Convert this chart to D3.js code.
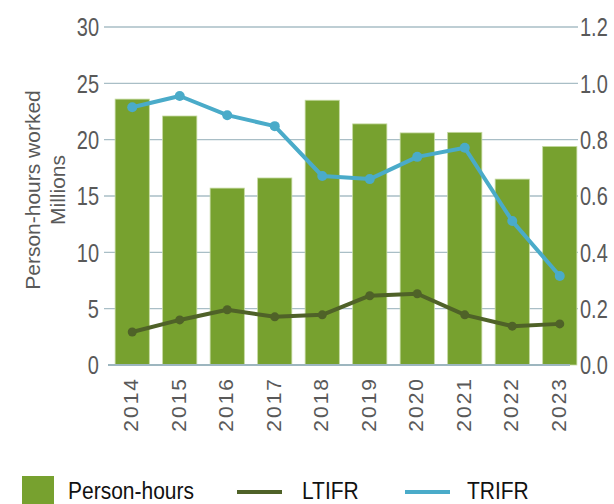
<!DOCTYPE html>
<html>
<head>
<meta charset="utf-8">
<script src="https://cdn.jsdelivr.net/npm/d3@7"></script>
<style>
  body { margin: 0; background: #fff; }
  svg { display: block; font-family: "Liberation Sans", Arial, sans-serif; }
</style>
</head>
<body>
<svg id="chart"></svg>
<script>
// data
const years = ["2014", "2015", "2016", "2017", "2018", "2019", "2020", "2021", "2022", "2023"];
const personHours = [23.6, 22.1, 15.7, 16.6, 23.5, 21.4, 20.6, 20.65, 16.5, 19.4];
const ltifr = [0.117, 0.16, 0.196, 0.171, 0.178, 0.246, 0.253, 0.178, 0.138, 0.146];
const trifr = [0.915, 0.955, 0.887, 0.848, 0.671, 0.66, 0.739, 0.771, 0.511, 0.316];
const leftTicks = [0, 5, 10, 15, 20, 25, 30];
const rightTicks = [0, 0.2, 0.4, 0.6, 0.8, 1.0, 1.2];

const width = 614, height = 504;
const barColor = "#77a12f", ltColor = "#4f6228", trColor = "#4aabc9";
const gridColor = "#a9bec6", labelColor = "#595959";

const svg = d3.select("#chart").attr("width", width).attr("height", height);

const x = d3.scaleBand().domain(years).range([108, 584]).paddingInner(0.28).paddingOuter(0.15);
const yL = d3.scaleLinear().domain([0, 30]).range([365, 27]);
const yR = d3.scaleLinear().domain([0, 1.2]).range([365, 27]);

// gridlines
svg.append("g").selectAll("line")
    .data(leftTicks.slice(1))
    .join("line")
    .attr("x1", 104).attr("x2", 578)
    .attr("y1", d => yL(d)).attr("y2", d => yL(d))
    .attr("stroke", gridColor).attr("stroke-width", 1.3);

// left tick labels (the source is stretched a little vertically)
svg.append("g").selectAll("text")
    .data(leftTicks)
    .join("text")
    .attr("transform", d => `translate(99,${yL(d)}) scale(1,1.3)`)
    .attr("dy", "0.36em")
    .attr("text-anchor", "end")
    .attr("font-size", 20)
    .attr("fill", labelColor)
    .text(d => d);

// right tick labels
svg.append("g").selectAll("text")
    .data(rightTicks)
    .join("text")
    .attr("transform", d => `translate(580,${yR(d)}) scale(1,1.3)`)
    .attr("dy", "0.36em")
    .attr("font-size", 20)
    .attr("fill", labelColor)
    .text(d => d.toFixed(1));

// bars
svg.append("g").selectAll("rect")
    .data(years)
    .join("rect")
    .attr("x", d => x(d))
    .attr("width", x.bandwidth())
    .attr("y", (d, i) => yL(personHours[i]))
    .attr("height", (d, i) => yL(0) - yL(personHours[i]))
    .attr("fill", barColor)
    .attr("stroke", "#c4d9a0")
    .attr("stroke-width", 0.8);

// zero axis line
svg.append("line")
    .attr("x1", 108).attr("x2", 570)
    .attr("y1", yL(0)).attr("y2", yL(0))
    .attr("stroke", "#9db6bf").attr("stroke-width", 2);

// year labels
svg.append("g").selectAll("text")
    .data(years)
    .join("text")
    .attr("transform", d => `translate(${x(d) + x.bandwidth() / 2 + 6},377) rotate(-90)`)
    .attr("text-anchor", "end")
    .attr("font-size", 21)
    .attr("letter-spacing", 2)
    .attr("fill", labelColor)
    .text(d => d);

// lines
const cx = d => x(d) + x.bandwidth() / 2;
function drawSeries(values, color, r) {
    const line = d3.line().x((d, i) => cx(years[i])).y(d => yR(d));
    svg.append("path")
        .datum(values)
        .attr("d", line)
        .attr("fill", "none")
        .attr("stroke", color)
        .attr("stroke-width", 4)
        .attr("stroke-linejoin", "round");
    svg.append("g").selectAll("circle")
        .data(values)
        .join("circle")
        .attr("cx", (d, i) => cx(years[i]))
        .attr("cy", d => yR(d))
        .attr("r", r)
        .attr("fill", color);
}
drawSeries(ltifr, ltColor, 4.5);
drawSeries(trifr, trColor, 5);

// y axis title
const title = svg.append("text")
    .attr("transform", "translate(40,190) rotate(-90)")
    .attr("text-anchor", "middle")
    .attr("font-size", 21)
    .attr("fill", labelColor);
title.append("tspan").attr("x", 0).attr("dy", 0).text("Person-hours worked");
title.append("tspan").attr("x", 0).attr("dy", 25).text("Millions");

// legend
const legend = svg.append("g");
const legendText = (xPos, label) => legend.append("text")
    .attr("transform", `translate(${xPos},499) scale(1,1.15)`)
    .attr("font-size", 21).attr("fill", "#111").text(label);
legend.append("rect").attr("x", 22).attr("y", 476).attr("width", 32).attr("height", 32).attr("fill", barColor);
legendText(68, "Person-hours");
legend.append("line").attr("x1", 237).attr("x2", 282).attr("y1", 492).attr("y2", 492)
    .attr("stroke", ltColor).attr("stroke-width", 4);
legendText(302, "LTIFR");
legend.append("line").attr("x1", 405).attr("x2", 450).attr("y1", 492).attr("y2", 492)
    .attr("stroke", trColor).attr("stroke-width", 4);
legendText(467, "TRIFR");
</script>
</body>
</html>
